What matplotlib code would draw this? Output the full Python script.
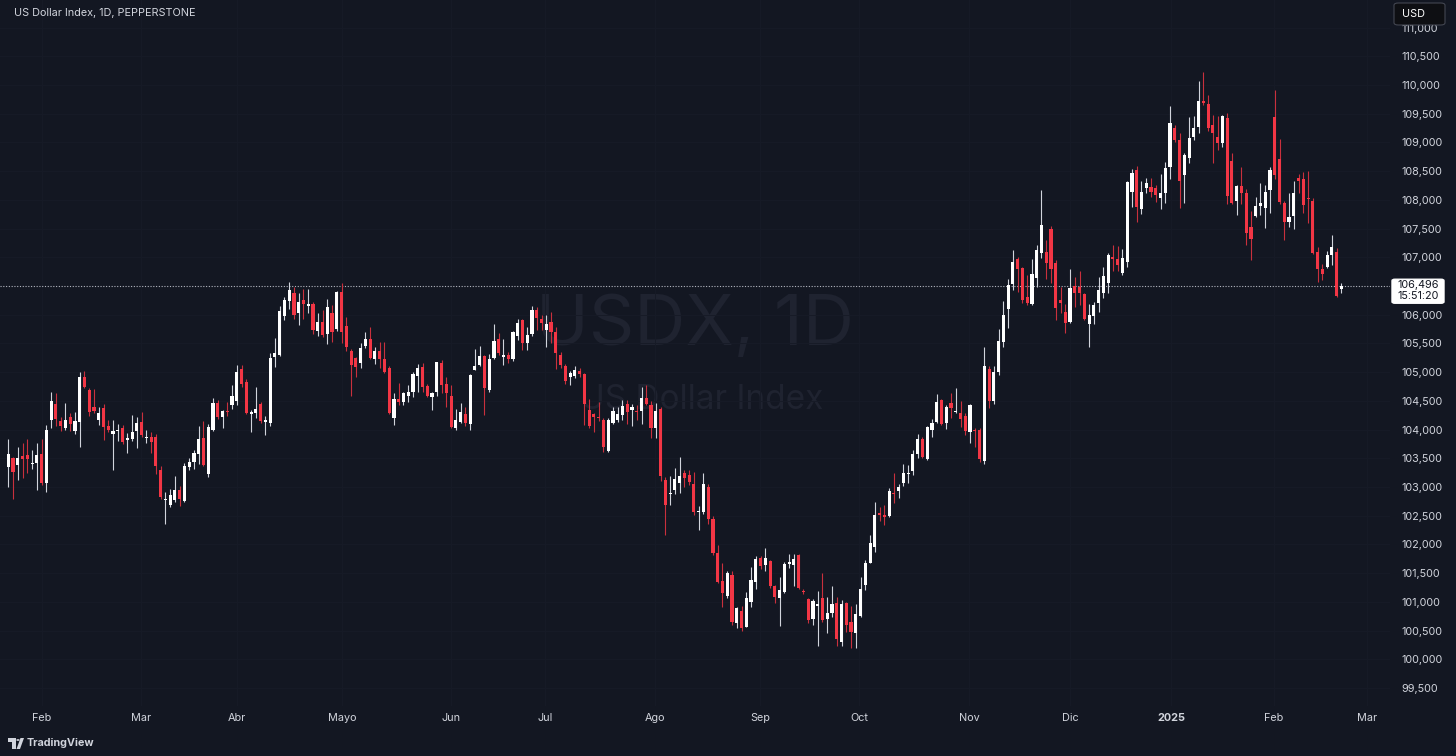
import matplotlib
matplotlib.use('Agg')
import matplotlib.pyplot as plt
from matplotlib.patches import FancyBboxPatch, Polygon, Circle

# ---------------- data (USDX daily) ----------------
opens = [103.35, 103.5, 103.38, 103.54, 103.55, 103.4, 103.41, 103.57, 103.07, 104.17,
         104.45, 104.15, 104.03, 104.22, 103.98, 104.13, 104.92, 104.69, 104.39, 104.17,
         104.38, 104.06, 103.93, 103.97, 104.03, 103.82, 103.83, 103.97, 104.13, 103.85,
         103.87, 103.87, 103.3, 102.78, 102.69, 102.78, 102.95, 102.76, 103.35, 103.43,
         103.57, 103.86, 103.23, 104.0, 104.46, 104.22, 104.32, 104.43, 104.5, 105.05,
         104.83, 104.28, 104.29, 104.44, 104.14, 104.12, 105.26, 105.3, 105.98, 106.24,
         106.38, 106.03, 106.26, 106.15, 106.19, 105.71, 105.87, 105.66, 106.03, 105.75,
         106.4, 105.8, 105.37, 105.25, 105.16, 105.45, 105.58, 105.23, 105.36, 105.23,
         105.07, 104.2, 104.53, 104.48, 104.58, 104.65, 104.93, 105.09, 104.76, 104.57,
         104.65, 105.16, 104.8, 104.58, 104.02, 104.13, 104.27, 104.1, 105.04, 105.12,
         105.28, 104.69, 105.25, 105.58, 105.27, 105.3, 105.23, 105.63, 105.9, 105.51,
         105.66, 106.08, 105.93, 105.73, 105.87, 105.7, 105.29, 105.1, 104.91, 104.93,
         105.02, 104.97, 104.34, 104.27, 104.22, 104.17, 103.63, 104.11, 104.17, 104.25,
         104.44, 104.34, 104.32, 104.32, 104.55, 104.43, 104.03, 104.36, 103.12, 102.87,
         102.94, 103.07, 103.24, 103.21, 103.05, 102.56, 102.57, 103.0, 102.45, 101.85,
         101.36, 101.1, 101.47, 100.63, 100.84, 100.57, 101.0, 101.35, 101.76, 101.64,
         101.71, 101.27, 101.07, 101.17, 101.66, 101.64, 101.82, 101.19, 101.05, 100.71,
         100.93, 101.07, 100.71, 100.8, 100.98, 100.3, 100.98, 100.65, 100.46, 100.76,
         101.3, 101.68, 101.96, 102.55, 102.52, 102.5, 102.9, 102.93, 103.07, 103.22,
         103.28, 103.57, 103.83, 103.48, 104.0, 104.13, 104.51, 104.12, 104.46, 104.3,
         104.29, 104.24, 103.96, 104.0, 104.0, 103.45, 105.05, 104.5, 105.0, 105.52,
         106.1, 106.53, 106.97, 106.81, 106.31, 106.19, 106.64, 107.08, 107.1, 107.5,
         106.9, 106.26, 106.05, 105.88, 106.5, 106.48, 106.36, 105.83, 105.98, 106.2,
         106.38, 106.55, 107.0, 106.97, 106.73, 106.92, 108.14, 108.52, 107.84, 108.21,
         108.23, 108.2, 108.03, 108.12, 108.57, 109.25, 109.04, 108.43, 108.73, 109.1,
         109.27, 109.72, 109.67, 109.3, 109.09, 108.99, 109.42, 108.68, 107.98, 108.24,
         108.12, 107.53, 107.72, 107.89, 107.86, 108.17, 109.44, 108.71, 107.95, 107.61,
         107.72, 108.38, 108.36, 108.04, 107.98, 107.09, 106.8, 106.83, 107.04, 107.09,
         106.45]
highs = [103.84, 103.52, 103.7, 103.77, 103.84, 103.64, 103.77, 103.84, 104.08, 104.66,
         104.64, 104.22, 104.46, 104.29, 104.31, 105.0, 105.02, 104.72, 104.71, 104.39,
         104.44, 104.17, 104.17, 104.1, 104.08, 103.94, 104.25, 104.22, 104.3, 103.99,
         103.96, 103.92, 103.37, 102.92, 102.96, 103.19, 103.02, 103.42, 103.5, 103.64,
         104.06, 104.15, 104.1, 104.55, 104.51, 104.34, 104.48, 104.78, 105.12, 105.13,
         104.88, 104.34, 104.74, 104.48, 104.24, 105.34, 105.59, 106.15, 106.3, 106.57,
         106.48, 106.38, 106.45, 106.45, 106.23, 106.03, 106.08, 106.27, 106.17, 106.42,
         106.55, 105.96, 105.4, 105.27, 105.51, 105.7, 105.79, 105.44, 105.52, 105.52,
         105.1, 104.64, 104.81, 104.65, 104.78, 105.0, 105.14, 105.16, 104.79, 104.66,
         105.18, 105.21, 104.91, 104.78, 104.36, 104.46, 104.39, 104.97, 105.4, 105.45,
         105.29, 105.31, 105.84, 105.69, 105.58, 105.35, 105.72, 105.93, 105.93, 105.79,
         106.15, 106.13, 106.0, 106.0, 106.05, 105.79, 105.35, 105.15, 105.02, 105.1,
         105.08, 104.98, 104.53, 104.29, 104.48, 104.2, 104.2, 104.39, 104.39, 104.51,
         104.51, 104.44, 104.43, 104.74, 104.78, 104.5, 104.46, 104.39, 103.17, 103.19,
         103.33, 103.52, 103.3, 103.3, 103.26, 102.67, 103.24, 103.05, 102.5, 101.99,
         101.67, 101.54, 101.54, 100.91, 100.93, 101.17, 101.6, 101.8, 101.8, 101.94,
         101.73, 101.29, 101.43, 101.69, 101.83, 101.83, 101.83, 101.22, 101.07, 101.05,
         101.19, 101.5, 101.08, 101.27, 101.08, 101.03, 101.0, 100.93, 100.96, 101.43,
         101.73, 102.17, 102.74, 102.65, 102.69, 102.98, 103.24, 103.05, 103.4, 103.38,
         103.64, 103.92, 103.87, 104.07, 104.19, 104.62, 104.53, 104.43, 104.64, 104.72,
         104.5, 104.29, 104.45, 104.02, 104.02, 105.44, 105.1, 105.1, 105.75, 106.24,
         106.62, 107.13, 107.0, 106.83, 106.69, 106.97, 107.21, 108.17, 107.3, 107.55,
         106.95, 106.48, 106.19, 106.8, 106.66, 106.76, 106.38, 106.19, 106.22, 106.66,
         106.83, 107.07, 107.21, 107.2, 107.15, 108.33, 108.54, 108.59, 108.33, 108.38,
         108.38, 108.26, 108.45, 108.66, 109.63, 109.3, 109.17, 108.82, 109.44, 109.46,
         110.07, 110.23, 109.83, 109.48, 109.46, 109.48, 109.51, 108.82, 108.26, 108.57,
         108.19, 107.81, 108.05, 108.29, 108.26, 108.57, 109.91, 109.06, 107.98, 108.12,
         108.33, 108.45, 108.48, 108.5, 108.03, 107.18, 106.88, 107.11, 107.39, 107.16,
         106.55]
lows = [103.0, 102.8, 103.13, 103.15, 103.25, 103.31, 102.95, 103.03, 102.92, 104.02,
        104.06, 103.98, 103.99, 103.98, 103.93, 103.7, 104.72, 104.24, 104.29, 104.08,
        103.82, 103.96, 103.3, 103.8, 103.75, 103.6, 103.8, 103.68, 103.87, 103.77,
        103.6, 103.23, 102.8, 102.35, 102.65, 102.74, 102.67, 102.74, 103.3, 103.31,
        103.4, 103.36, 103.17, 103.98, 104.18, 104.03, 104.24, 104.36, 104.43, 104.74,
        104.27, 103.96, 104.2, 104.12, 103.91, 104.06, 105.09, 105.28, 105.9, 106.1,
        105.93, 105.82, 105.93, 106.03, 105.66, 105.63, 105.61, 105.49, 105.52, 105.72,
        105.5, 105.37, 104.58, 104.91, 105.07, 105.42, 105.23, 105.15, 105.07, 104.98,
        104.27, 104.08, 104.43, 104.43, 104.48, 104.57, 104.65, 104.66, 104.56, 104.34,
        104.58, 104.64, 104.39, 104.02, 103.99, 104.11, 104.06, 104.0, 105.03, 105.1,
        104.25, 104.65, 105.23, 105.3, 105.12, 105.16, 105.19, 105.56, 105.39, 105.39,
        105.63, 105.73, 105.73, 105.44, 105.5, 105.05, 105.07, 104.8, 104.77, 104.9,
        104.92, 104.08, 104.02, 103.95, 104.15, 103.61, 103.61, 104.1, 104.13, 104.17,
        104.1, 104.06, 104.17, 104.1, 104.43, 103.85, 103.85, 103.1, 102.16, 102.69,
        102.88, 102.9, 103.0, 103.03, 102.51, 102.25, 102.53, 102.35, 101.82, 101.32,
        100.91, 101.07, 100.6, 100.55, 100.5, 100.56, 100.91, 101.22, 101.57, 101.54,
        101.24, 100.98, 100.58, 101.15, 101.59, 101.27, 101.22, 101.13, 100.63, 100.6,
        100.23, 100.65, 100.45, 100.74, 100.24, 100.24, 100.48, 100.2, 100.2, 100.74,
        101.2, 101.68, 101.87, 102.4, 102.33, 102.48, 102.72, 102.81, 103.02, 103.07,
        103.21, 103.5, 103.5, 103.47, 103.87, 104.11, 104.08, 104.01, 104.2, 104.29,
        104.05, 103.91, 103.77, 103.7, 103.44, 103.4, 104.37, 104.45, 104.95, 105.44,
        105.77, 106.43, 106.4, 106.2, 106.17, 106.17, 106.48, 106.99, 106.62, 106.55,
        105.91, 106.03, 105.68, 105.85, 106.13, 106.17, 105.9, 105.44, 105.83, 106.05,
        106.29, 106.38, 106.76, 106.76, 106.7, 106.83, 107.88, 107.62, 107.75, 108.12,
        108.05, 107.96, 107.84, 107.95, 108.36, 109.0, 107.86, 107.95, 108.64, 109.04,
        109.17, 109.66, 109.2, 108.64, 108.87, 108.92, 107.93, 107.93, 107.74, 107.93,
        107.21, 106.95, 107.7, 107.74, 107.51, 107.77, 108.36, 107.93, 107.3, 107.53,
        107.49, 108.12, 107.77, 107.6, 107.06, 106.57, 106.6, 106.81, 106.86, 106.31,
        106.38]
closes = [103.57, 103.27, 103.5, 103.48, 103.48, 103.42, 103.55, 103.07, 104.0, 104.5,
          104.18, 104.07, 104.17, 104.1, 104.15, 104.91, 104.74, 104.31, 104.32, 104.29,
          104.04, 104.0, 103.97, 104.0, 103.79, 103.86, 103.96, 104.11, 103.9, 103.87,
          103.78, 103.36, 102.83, 102.8, 102.86, 102.95, 102.8, 103.37, 103.43, 103.59,
          103.83, 103.38, 104.05, 104.46, 104.22, 104.33, 104.3, 104.59, 105.0, 104.8,
          104.29, 104.3, 104.36, 104.15, 104.16, 105.25, 105.33, 106.07, 106.26, 106.43,
          106.0, 106.22, 106.18, 106.18, 105.73, 105.87, 105.65, 106.14, 105.7, 106.4,
          105.7, 105.44, 105.12, 105.09, 105.42, 105.58, 105.25, 105.36, 105.23, 105.0,
          104.29, 104.53, 104.48, 104.63, 104.65, 104.97, 105.07, 104.74, 104.58, 104.64,
          105.17, 104.77, 104.64, 104.04, 104.17, 104.31, 104.12, 104.95, 105.1, 105.28,
          104.72, 105.23, 105.54, 105.33, 105.29, 105.23, 105.7, 105.86, 105.5, 105.65,
          106.08, 105.94, 105.86, 105.84, 105.7, 105.33, 105.12, 104.85, 104.98, 105.03,
          104.96, 104.45, 104.06, 104.22, 104.2, 103.69, 104.17, 104.33, 104.27, 104.41,
          104.31, 104.39, 104.3, 104.55, 104.45, 104.03, 104.33, 103.19, 102.69, 102.9,
          103.14, 103.19, 103.16, 103.09, 102.56, 102.58, 103.05, 102.45, 101.85, 101.35,
          101.15, 101.5, 100.65, 100.89, 100.55, 101.06, 101.38, 101.75, 101.62, 101.76,
          101.27, 101.08, 101.21, 101.66, 101.7, 101.75, 101.24, 101.17, 100.69, 101.02,
          100.96, 100.69, 100.8, 100.97, 100.36, 100.97, 100.6, 100.48, 100.79, 101.23,
          101.68, 102.03, 102.52, 102.52, 102.48, 102.93, 102.88, 103.0, 103.24, 103.25,
          103.57, 103.83, 103.52, 104.05, 104.12, 104.48, 104.1, 104.39, 104.38, 104.31,
          104.19, 103.98, 104.42, 103.98, 103.48, 105.1, 104.5, 105.0, 105.55, 105.99,
          106.52, 106.92, 106.8, 106.26, 106.2, 106.71, 107.13, 107.56, 106.9, 106.8,
          106.12, 106.2, 105.86, 106.47, 106.38, 106.38, 105.92, 106.0, 106.17, 106.43,
          106.67, 107.04, 106.97, 106.87, 106.99, 108.31, 108.47, 107.88, 108.14, 108.29,
          108.14, 108.09, 108.12, 108.55, 109.34, 109.04, 108.33, 108.78, 109.08, 109.25,
          109.72, 109.68, 109.25, 109.16, 108.99, 109.46, 108.07, 107.95, 108.24, 108.12,
          107.42, 107.32, 107.89, 107.95, 108.14, 108.52, 108.43, 107.96, 107.61, 107.7,
          108.12, 108.33, 107.91, 108.02, 107.07, 106.8, 106.71, 107.04, 107.18, 106.33,
          106.496]

month_labels = ['Feb', 'Mar', 'Abr', 'Mayo', 'Jun', 'Jul', 'Ago', 'Sep', 'Oct',
                'Nov', 'Dic', '2025', 'Feb', 'Mar']
month_pos = [7.1, 27.9, 48.0, 70.1, 93.0, 112.7, 135.8, 157.9, 178.7,
             201.8, 223.0, 244.2, 265.8, 285.4]
price_ticks = [99.5, 100.0, 100.5, 101.0, 101.5, 102.0, 102.5, 103.0, 103.5, 104.0,
               104.5, 105.0, 105.5, 106.0, 106.5, 107.0, 107.5, 108.0, 108.5, 109.0,
               109.5, 110.0, 110.5, 111.0]
last_price = 106.496
countdown = '15:51:20'
title = 'US Dollar Index, 1D, PEPPERSTONE'
watermark_big = 'USDX, 1D'
watermark_small = 'US Dollar Index'

# ---------------- style ----------------
plt.rcParams['font.family'] = ['Inter', 'DejaVu Sans']
BG = '#131722'
UP = '#ffffff'
DOWN = '#f23645'
UP_WICK = '#d1d4dc'
DOWN_WICK = '#c9303d'
TXT = '#d1d4dc'

W, H = 1456, 756
fig = plt.figure(figsize=(W / 100, H / 100), dpi=100, facecolor=BG)
ax = fig.add_axes([0, 50 / H, 1390 / W, 706 / H])
ax.set_facecolor(BG)

n = len(closes)
xs = list(range(n))
body_bottom = [min(o, c) for o, c in zip(opens, closes)]
body_h = [max(abs(c - o), 0.02) for o, c in zip(opens, closes)]
up = [c >= o for o, c in zip(opens, closes)]
body_col = [UP if u else DOWN for u in up]
wick_col = [UP_WICK if u else DOWN_WICK for u in up]

ax.vlines(xs, lows, highs, colors=wick_col, linewidth=0.8, zorder=3)
ax.bar(xs, body_h, bottom=body_bottom, width=0.66, color=body_col,
       linewidth=0, zorder=4)

ax.set_xlim(-1.74, 290.2)
ax.set_ylim(99.187, 111.48)

# watermark
ax.text(0.5, 0.537, watermark_big, transform=ax.transAxes, ha='center', va='center',
        fontsize=51, color='#1f2330', zorder=1)
ax.text(0.505, 0.433, watermark_small, transform=ax.transAxes, ha='center', va='center',
        fontsize=24, color='#1f2330', zorder=1)

# ticks / grid
ax.set_yticks(price_ticks)
ylabels = [f'{v:.3f}'.replace('.', ',') for v in price_ticks]
# the last-price tag covers the 106,500 label in the reference
ylabels = ['' if abs(v - last_price) < 0.1 else s for v, s in zip(price_ticks, ylabels)]
ax.set_yticklabels(ylabels)
ax.set_xticks(month_pos)
ax.set_xticklabels(month_labels)
ax.grid(True, color='#171b27', linewidth=0.7, zorder=0)
ax.yaxis.tick_right()
ax.tick_params(axis='y', length=0, pad=8, labelsize=7.8, labelcolor=TXT)
ax.tick_params(axis='x', length=0, pad=5, labelsize=7.8, labelcolor=TXT)
for lab in ax.get_xticklabels():
    if lab.get_text() == '2025':
        lab.set_fontweight('bold')
for s in ax.spines.values():
    s.set_visible(False)

# last price dotted line
ax.axhline(last_price, color='#b2b5be', linewidth=0.8, linestyle=(0, (1, 1.5)), zorder=2)

# price label box
ypx = 706 - (last_price - 99.187) / (111.48 - 99.187) * 706  # px from top
yf = 1 - ypx / H
box = FancyBboxPatch((1392 / W, yf - 17 / H), 52 / W, 24 / H,
                     boxstyle='round,pad=0,rounding_size=0.002',
                     transform=fig.transFigure, fc='white', ec='white', zorder=10)
fig.patches.append(box)
fig.text(1418 / W, yf + 1 / H, f'{last_price:.3f}'.replace('.', ','), ha='center',
         va='center', fontsize=7.8, color='#131722', zorder=11)
fig.text(1418 / W, yf - 10 / H, countdown, ha='center', va='center',
         fontsize=7.8, color='#131722', zorder=11)

# USD box
ubox = FancyBboxPatch((1394 / W, 1 - 25 / H), 51 / W, 22 / H,
                      boxstyle='round,pad=0,rounding_size=0.003',
                      transform=fig.transFigure, fc='#0e0f13', ec='#434651',
                      linewidth=0.8, zorder=10)
fig.patches.append(ubox)
fig.text(1402 / W, 1 - 14 / H, 'USD', ha='left', va='center', fontsize=7.8,
         color='white', zorder=11)

# title
fig.text(14 / W, 1 - 13 / H, title, ha='left', va='center', fontsize=7.8, color=TXT)


# bottom TradingView logo (drawn as shapes) + text
def P(x, y):
    return (x / W, 1 - y / H)


logo_t = Polygon([P(8, 738), P(15.5, 738), P(15.5, 749), P(12, 749), P(12, 741.5), P(8, 741.5)],
                 closed=True, transform=fig.transFigure, fc=TXT, ec='none')
logo_dot = Circle(P(18, 740), 1.7 / W, transform=fig.transFigure, fc=TXT, ec='none')
logo_v = Polygon([P(16.5, 749), P(20.5, 738), P(24, 738), P(20, 749)],
                 closed=True, transform=fig.transFigure, fc=TXT, ec='none')
for p in (logo_t, logo_dot, logo_v):
    fig.patches.append(p)
fig.text(27 / W, 13 / H, 'TradingView', ha='left', va='center', fontsize=7.8,
         color=TXT, fontweight='bold')

fig.savefig('out.png', dpi=100, facecolor=BG)
